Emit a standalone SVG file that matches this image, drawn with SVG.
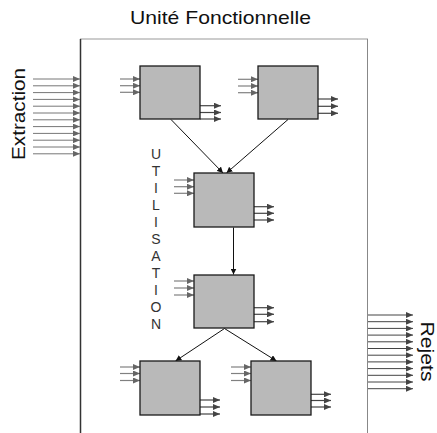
<svg xmlns="http://www.w3.org/2000/svg" width="437" height="433" viewBox="0 0 437 433">
<style>
text{font-family:"Liberation Sans",Arial,sans-serif;fill:#111}
.box{fill:#b9b9b9;stroke:#1a1a1a;stroke-width:1.3}
.in{stroke:#808080;stroke-width:1.2;marker-end:url(#ahg)}
.out{stroke:#444;stroke-width:1.2;marker-end:url(#ahd)}
.ext{stroke:#777;stroke-width:1;marker-end:url(#ahg)}
.rej{stroke:#444;stroke-width:1;marker-end:url(#ahd)}
.conn{stroke:#111;stroke-width:1;fill:none;marker-end:url(#ahc)}
.util{font-size:14px;fill:#333;text-anchor:middle}
</style>
<defs>
<marker id="ahg" markerUnits="userSpaceOnUse" markerWidth="8" markerHeight="6" refX="7" refY="3" orient="auto"><path d="M0,0 L7,3 L0,6 z" fill="#666"/></marker>
<marker id="ahd" markerUnits="userSpaceOnUse" markerWidth="8" markerHeight="6" refX="7" refY="3" orient="auto"><path d="M0,0 L7,3 L0,6 z" fill="#444"/></marker>
<marker id="ahc" markerUnits="userSpaceOnUse" markerWidth="7" markerHeight="6" refX="6" refY="3" orient="auto"><path d="M0,0 L6,3 L0,6 z" fill="#111"/></marker>
</defs>
<rect width="437" height="433" fill="#fff"/>

<g id="title"><text x="130" y="23.5" font-size="19" textLength="181" lengthAdjust="spacingAndGlyphs">Unité Fonctionnelle</text></g>

<g id="frame">
<line x1="80" y1="39" x2="368" y2="39" stroke="#999" stroke-width="1.2"/>
<line x1="80.5" y1="39" x2="80.5" y2="433" stroke="#333" stroke-width="1.5"/>
<line x1="367.5" y1="39" x2="367.5" y2="433" stroke="#888" stroke-width="1"/>
</g>

<g id="extraction">
<text transform="translate(25,114) rotate(-90)" font-size="19" text-anchor="middle" textLength="92" lengthAdjust="spacingAndGlyphs">Extraction</text>
<line class="ext" x1="33" y1="79" x2="80" y2="79"/>
<line class="ext" x1="33" y1="85.8" x2="80" y2="85.8"/>
<line class="ext" x1="33" y1="92.6" x2="80" y2="92.6"/>
<line class="ext" x1="33" y1="99.4" x2="80" y2="99.4"/>
<line class="ext" x1="33" y1="106.2" x2="80" y2="106.2"/>
<line class="ext" x1="33" y1="113" x2="80" y2="113"/>
<line class="ext" x1="33" y1="119.8" x2="80" y2="119.8"/>
<line class="ext" x1="33" y1="126.6" x2="80" y2="126.6"/>
<line class="ext" x1="33" y1="133.4" x2="80" y2="133.4"/>
<line class="ext" x1="33" y1="140.2" x2="80" y2="140.2"/>
<line class="ext" x1="33" y1="147" x2="80" y2="147"/>
<line class="ext" x1="33" y1="153.8" x2="80" y2="153.8"/>
</g>

<g id="rejets">
<text transform="translate(421,351.5) rotate(90)" font-size="18" text-anchor="middle" textLength="60" lengthAdjust="spacingAndGlyphs">Rejets</text>
<line class="rej" x1="368" y1="315" x2="413" y2="315"/>
<line class="rej" x1="368" y1="321.7" x2="413" y2="321.7"/>
<line class="rej" x1="368" y1="328.4" x2="413" y2="328.4"/>
<line class="rej" x1="368" y1="335.1" x2="413" y2="335.1"/>
<line class="rej" x1="368" y1="341.8" x2="413" y2="341.8"/>
<line class="rej" x1="368" y1="348.5" x2="413" y2="348.5"/>
<line class="rej" x1="368" y1="355.2" x2="413" y2="355.2"/>
<line class="rej" x1="368" y1="361.9" x2="413" y2="361.9"/>
<line class="rej" x1="368" y1="368.6" x2="413" y2="368.6"/>
<line class="rej" x1="368" y1="375.3" x2="413" y2="375.3"/>
<line class="rej" x1="368" y1="382" x2="413" y2="382"/>
<line class="rej" x1="368" y1="388.7" x2="413" y2="388.7"/>
</g>

<g id="utilisation">
<text class="util" x="156" y="159">U</text>
<text class="util" x="156" y="176">T</text>
<text class="util" x="156" y="193">I</text>
<text class="util" x="156" y="210">L</text>
<text class="util" x="156" y="227">I</text>
<text class="util" x="156" y="244">S</text>
<text class="util" x="156" y="261">A</text>
<text class="util" x="156" y="278">T</text>
<text class="util" x="156" y="295">I</text>
<text class="util" x="156" y="312">O</text>
<text class="util" x="156" y="329">N</text>
</g>

<g id="connectors">
<line class="conn" x1="171" y1="119.5" x2="223" y2="173"/>
<line class="conn" x1="288" y1="119.5" x2="226.5" y2="173"/>
<line class="conn" x1="233.5" y1="227.5" x2="233.5" y2="274.5"/>
<line class="conn" x1="224.5" y1="328.5" x2="175.5" y2="361"/>
<line class="conn" x1="224.5" y1="328.5" x2="276.5" y2="361"/>
</g>

<g id="box1">
<line class="in" x1="120" y1="79" x2="140" y2="79"/>
<line class="in" x1="120" y1="85.7" x2="140" y2="85.7"/>
<line class="in" x1="120" y1="92.3" x2="140" y2="92.3"/>
<line class="out" x1="200" y1="105.7" x2="221" y2="105.7"/>
<line class="out" x1="200" y1="112.5" x2="221" y2="112.5"/>
<line class="out" x1="200" y1="119" x2="221" y2="119"/>
<rect class="box" x="140" y="66" width="60" height="53"/>
</g>

<g id="box2">
<line class="in" x1="238" y1="79.3" x2="258" y2="79.3"/>
<line class="in" x1="238" y1="86" x2="258" y2="86"/>
<line class="in" x1="238" y1="92.7" x2="258" y2="92.7"/>
<line class="out" x1="318" y1="99" x2="338" y2="99"/>
<line class="out" x1="318" y1="106.3" x2="338" y2="106.3"/>
<line class="out" x1="318" y1="113.3" x2="338" y2="113.3"/>
<rect class="box" x="258" y="66" width="60" height="53"/>
</g>

<g id="box3">
<line class="in" x1="174" y1="180" x2="194" y2="180"/>
<line class="in" x1="174" y1="186.7" x2="194" y2="186.7"/>
<line class="in" x1="174" y1="193.3" x2="194" y2="193.3"/>
<line class="out" x1="254" y1="206.7" x2="274" y2="206.7"/>
<line class="out" x1="254" y1="213.3" x2="274" y2="213.3"/>
<line class="out" x1="254" y1="220" x2="274" y2="220"/>
<rect class="box" x="194" y="173" width="60" height="54"/>
</g>

<g id="box4">
<line class="in" x1="174" y1="281" x2="194" y2="281"/>
<line class="in" x1="174" y1="288" x2="194" y2="288"/>
<line class="in" x1="174" y1="295" x2="194" y2="295"/>
<line class="out" x1="254" y1="307.7" x2="274" y2="307.7"/>
<line class="out" x1="254" y1="314.3" x2="274" y2="314.3"/>
<line class="out" x1="254" y1="321.7" x2="274" y2="321.7"/>
<rect class="box" x="194" y="275" width="60" height="53"/>
</g>

<g id="box5">
<line class="in" x1="120" y1="367" x2="140" y2="367"/>
<line class="in" x1="120" y1="373.5" x2="140" y2="373.5"/>
<line class="in" x1="120" y1="380.5" x2="140" y2="380.5"/>
<line class="out" x1="200" y1="400" x2="220" y2="400"/>
<line class="out" x1="200" y1="407" x2="220" y2="407"/>
<line class="out" x1="200" y1="414" x2="220" y2="414"/>
<rect class="box" x="140" y="361" width="60" height="54"/>
</g>

<g id="box6">
<line class="in" x1="231" y1="367" x2="251" y2="367"/>
<line class="in" x1="231" y1="373.5" x2="251" y2="373.5"/>
<line class="in" x1="231" y1="380.5" x2="251" y2="380.5"/>
<line class="out" x1="311" y1="394.3" x2="331" y2="394.3"/>
<line class="out" x1="311" y1="400.5" x2="331" y2="400.5"/>
<line class="out" x1="311" y1="407" x2="331" y2="407"/>
<rect class="box" x="251" y="361" width="60" height="54"/>
</g>
</svg>
